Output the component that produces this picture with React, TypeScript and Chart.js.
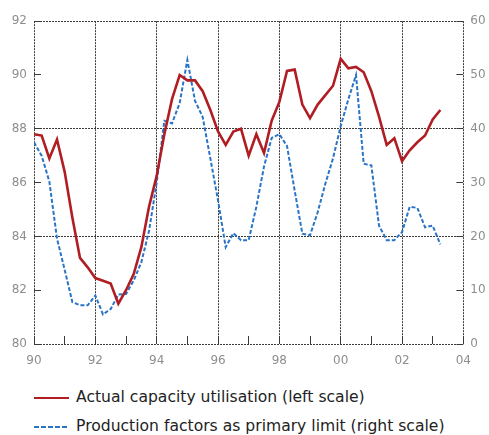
import React, { useEffect, useRef } from 'react';
import { Chart, registerables } from 'chart.js';

Chart.register(...registerables);

// Quarterly data, 1990Q1 .. 2003Q2
const START_YEAR = 1990;
const END_YEAR = 2004;

const capacityUtilisation = [
  87.8, 87.75, 86.9, 87.6, 86.4, 84.7, 83.2, 82.85, 82.45, 82.35,
  82.25, 81.5, 82.0, 82.6, 83.6, 85.1, 86.25, 87.8, 89.1, 90.0,
  89.8, 89.8, 89.4, 88.7, 87.9, 87.4, 87.9, 88.0, 87.0, 87.8,
  87.1, 88.3, 89.0, 90.15, 90.2, 88.9, 88.4, 88.9, 89.25, 89.6,
  90.6, 90.25, 90.3, 90.1, 89.4, 88.45, 87.4, 87.65, 86.8, 87.2,
  87.5, 87.75, 88.35, 88.7,
];

const productionFactors = [
  37.5, 35.0, 30.2, 19.6, 13.8, 7.8, 7.2, 7.2, 9.0, 5.5,
  6.5, 9.2, 9.3, 11.8, 15.2, 21.0, 30.0, 41.5, 41.0, 44.8,
  52.8, 45.2, 42.2, 34.5, 26.7, 18.0, 20.6, 19.3, 19.3, 25.5,
  33.0, 38.3, 39.0, 36.8, 28.5, 20.5, 20.2, 24.5, 29.8, 34.5,
  40.5, 45.5, 50.0, 33.5, 33.2, 22.0, 19.3, 19.3, 20.8, 25.5,
  25.3, 21.7, 22.0, 18.5,
];

const LEFT_MIN = 80;
const LEFT_MAX = 92;
const RIGHT_MIN = 0;
const RIGHT_MAX = 60;

const seriesLabels = [
  'Actual capacity utilisation (left scale)',
  'Production factors as primary limit (right scale)',
];

const RED = '#b01e23';
const BLUE = '#2a74c6';
const GRID = '#3a3a3a';
const TICK_TEXT = '#8e8e8e';

const toPoints = (vals: number[]) =>
  vals.map((v, i) => ({ x: START_YEAR + i / 4, y: v }));

export default function App() {
  const ref = useRef<HTMLCanvasElement>(null);

  useEffect(() => {
    if (!ref.current) return;
    const tickFont = { family: 'DejaVu Sans', size: 12 };
    const chart = new Chart(ref.current, {
      type: 'line',
      data: {
        datasets: [
          {
            label: seriesLabels[0],
            data: toPoints(capacityUtilisation),
            yAxisID: 'yL',
            borderColor: RED,
            borderWidth: 2.6,
            pointRadius: 0,
            tension: 0,
            fill: false,
          },
          {
            label: seriesLabels[1],
            data: toPoints(productionFactors),
            yAxisID: 'yR',
            borderColor: BLUE,
            borderWidth: 2,
            borderDash: [4, 2],
            pointRadius: 0,
            tension: 0,
            fill: false,
          },
        ],
      },
      options: {
        animation: false,
        responsive: false,
        maintainAspectRatio: false,
        layout: { padding: { top: 20, left: 0, right: 0, bottom: 0 } },
        plugins: {
          legend: { display: false },
          tooltip: { enabled: false },
        },
        scales: {
          x: {
            type: 'linear',
            min: START_YEAR,
            max: END_YEAR,
            afterFit: (s: any) => {
              s.height = 26;
            },
            ticks: {
              stepSize: 1,
              autoSkip: false,
              maxRotation: 0,
              padding: 18,
              color: TICK_TEXT,
              font: tickFont,
              callback: (v: any) =>
                Number(v) % 2 === 0 ? String(Number(v) % 100).padStart(2, '0') : '',
            },
            grid: {
              color: (ctx: any) =>
                ctx.tick && Number(ctx.tick.value) % 2 === 0 ? GRID : 'rgba(0,0,0,0)',
              lineWidth: 1,
              tickLength: -8,
              tickColor: GRID,
              tickWidth: 1,
            },
            border: { display: false, dash: [2, 1] },
          },
          yL: {
            position: 'left',
            min: LEFT_MIN,
            max: LEFT_MAX,
            afterFit: (s: any) => {
              s.width = 34;
            },
            ticks: {
              stepSize: 2,
              autoSkip: false,
              padding: 14,
              color: TICK_TEXT,
              font: tickFont,
            },
            grid: {
              color: (ctx: any) =>
                ctx.tick && Number(ctx.tick.value) % 4 === 0 ? GRID : 'rgba(0,0,0,0)',
              lineWidth: 1,
              tickLength: -7,
              tickColor: GRID,
              tickWidth: 1,
            },
            border: { display: false, dash: [2, 1] },
          },
          yR: {
            position: 'right',
            min: RIGHT_MIN,
            max: RIGHT_MAX,
            afterFit: (s: any) => {
              s.width = 25;
            },
            ticks: {
              stepSize: 10,
              autoSkip: false,
              padding: 14,
              color: TICK_TEXT,
              font: tickFont,
            },
            grid: {
              drawOnChartArea: false,
              tickLength: -7,
              tickColor: GRID,
              tickWidth: 1,
            },
            border: { display: false },
          },
        },
      },
    } as any);
    return () => chart.destroy();
  }, []);

  const legendText: React.CSSProperties = {
    position: 'absolute',
    left: 76,
    fontFamily: 'DejaVu Sans',
    fontSize: 15.6,
    lineHeight: '19px',
    color: '#222',
    whiteSpace: 'nowrap',
  };

  return (
    <div
      style={{
        position: 'absolute',
        left: 0,
        top: 0,
        width: 489,
        height: 435,
        background: '#fff',
        overflow: 'hidden',
      }}
    >
      <canvas ref={ref} width={489} height={370} style={{ display: 'block' }} />
      <div
        style={{
          position: 'absolute',
          left: 34,
          top: 397,
          width: 35,
          height: 0,
          borderTop: `2px solid ${RED}`,
        }}
      />
      <div style={{ ...legendText, top: 388 }}>{seriesLabels[0]}</div>
      <div
        style={{
          position: 'absolute',
          left: 34,
          top: 426,
          width: 35,
          height: 2,
          backgroundImage: `repeating-linear-gradient(to right, ${BLUE} 0 5px, transparent 5px 7px)`,
        }}
      />
      <div style={{ ...legendText, top: 417 }}>{seriesLabels[1]}</div>
    </div>
  );
}
